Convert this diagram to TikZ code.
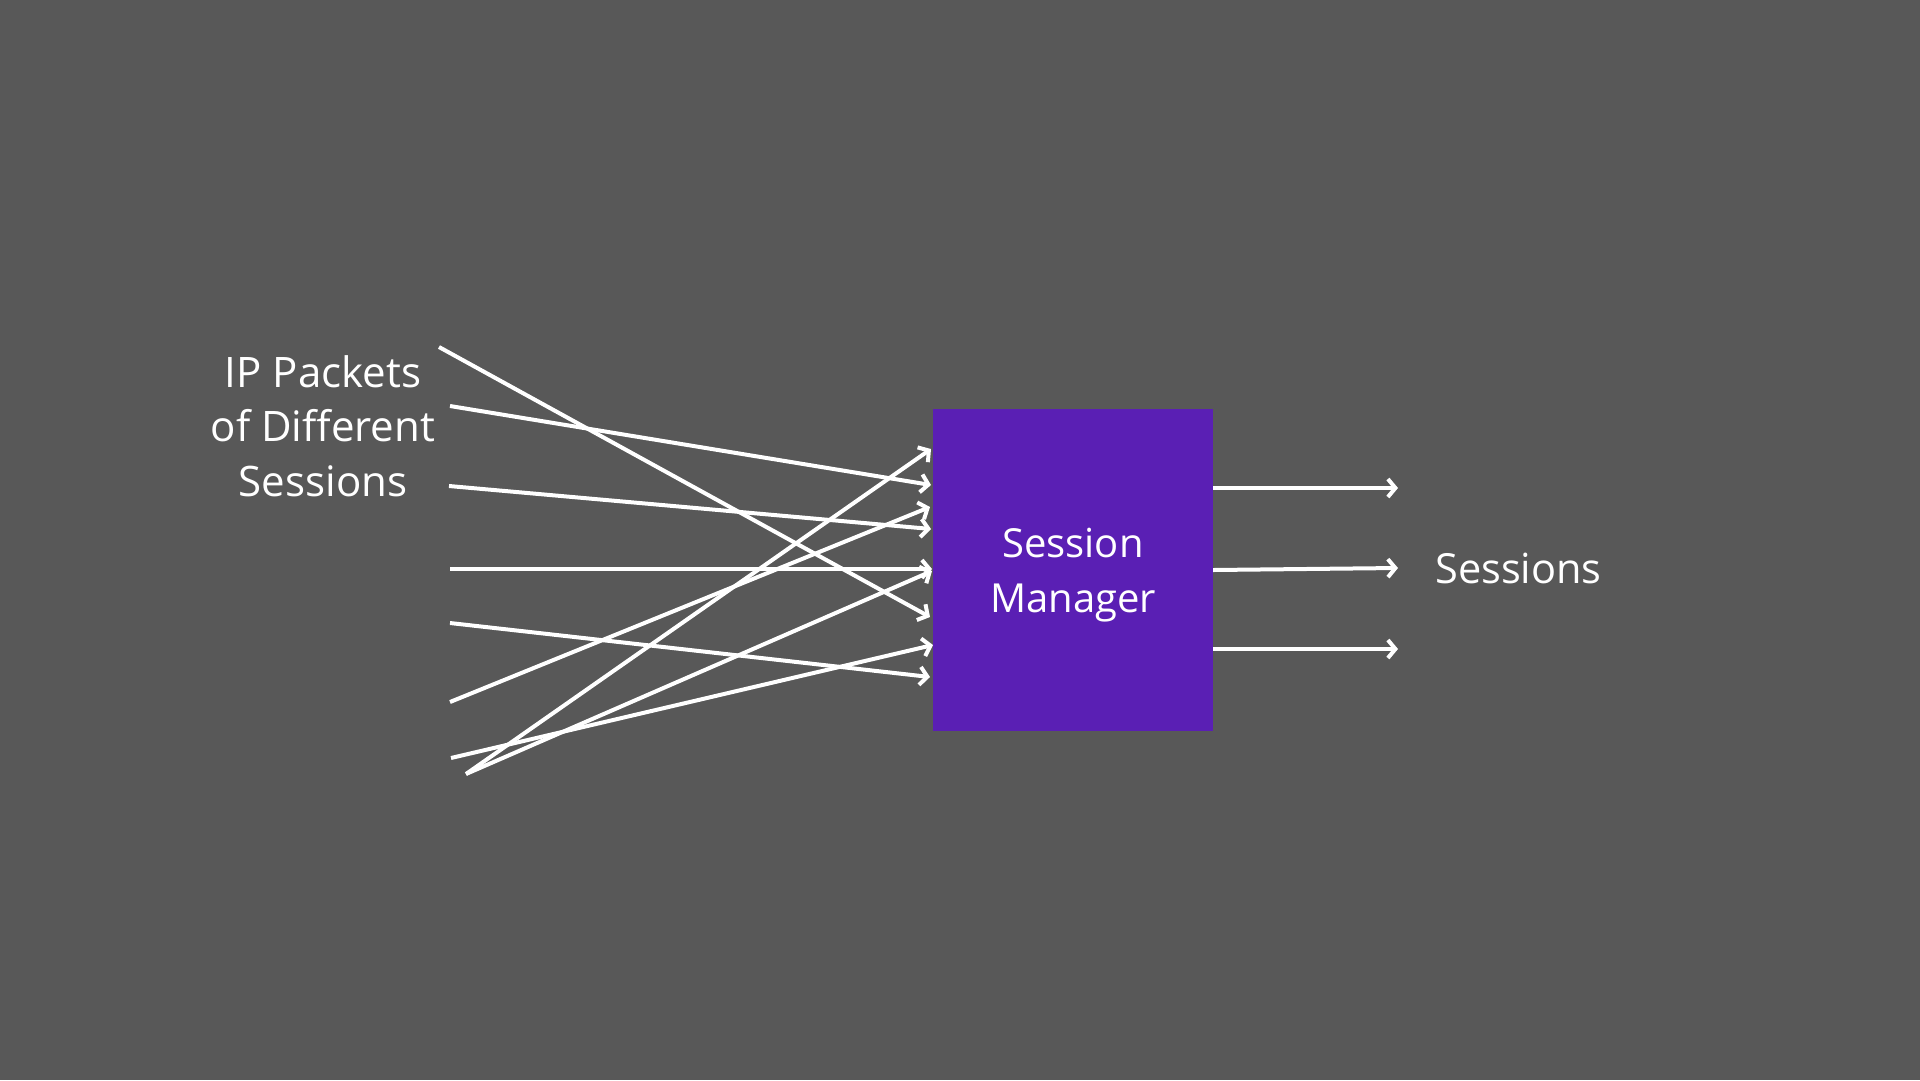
\documentclass[tikz,border=0pt]{standalone}
\usepackage{fontspec}
\setmainfont{Open Sans}
\usetikzlibrary{arrows.meta}
\definecolor{bgc}{HTML}{585858}
\definecolor{boxc}{HTML}{5A1FB4}
\tikzset{
  link/.style={draw=white, line width=4pt, -{Straight Barb[length=7.5pt,width=18pt]}},
  txt/.style={text=white, font=\fontsize{40}{54.5}\selectfont, inner sep=0pt, align=center},
  bigtxt/.style={txt, font=\fontsize{42}{54.5}\selectfont}
}
\begin{document}
\begin{tikzpicture}[x=1pt,y=-1pt]
\fill[bgc] (0,0) rectangle (1920,1080);
\useasboundingbox (0,0) rectangle (1920,1080);
\node[fill=boxc, minimum width=280pt, minimum height=322pt, inner sep=0pt] (box) at (1073,570) {};
\node[txt, anchor=base] (boxtext) at (1073,612) {Session\\Manager};
\node[bigtxt, anchor=base] (intext) at (323,496) {IP Packets\\of Different\\Sessions};
\node[txt, font=\fontsize{41.5}{50}\selectfont, anchor=base west] (outtext) at (1435,583) {Sessions};
% incoming free ends
\coordinate (s1) at (439,347);
\coordinate (s2) at (450,406);
\coordinate (s3) at (449,486);
\coordinate (s4) at (450,569);
\coordinate (s5) at (450,623);
\coordinate (s6) at (450,702);
\coordinate (s7) at (451,758);
\coordinate (s8) at (466,774);
% ends on the box
\coordinate (e1) at (930,617);
\coordinate (e2) at (931,485);
\coordinate (e3) at (931,529);
\coordinate (e4) at (932,569);
\coordinate (e5) at (930,677);
\coordinate (e6) at (930,507);
\coordinate (e7) at (933,645);
\coordinate (e8) at (931,449);
\coordinate (e9) at (932,571);
\draw[link] (s1) -- (e1);
\draw[link] (s2) -- (e2);
\draw[link] (s3) -- (e3);
\draw[link] (s4) -- (e4);
\draw[link] (s5) -- (e5);
\draw[link] (s6) -- (e6);
\draw[link] (s7) -- (e7);
\draw[link] (s8) -- (e8);
\draw[link] (s8) -- (e9);
% outputs
\coordinate (o1) at (1398,488);
\coordinate (o2) at (1398,568);
\coordinate (o3) at (1398,649);
\draw[link] (box.east |- 0,488) -- (o1);
\draw[link] (box.east |- 0,570) -- (o2);
\draw[link] (box.east |- 0,649) -- (o3);
\end{tikzpicture}
\end{document}
